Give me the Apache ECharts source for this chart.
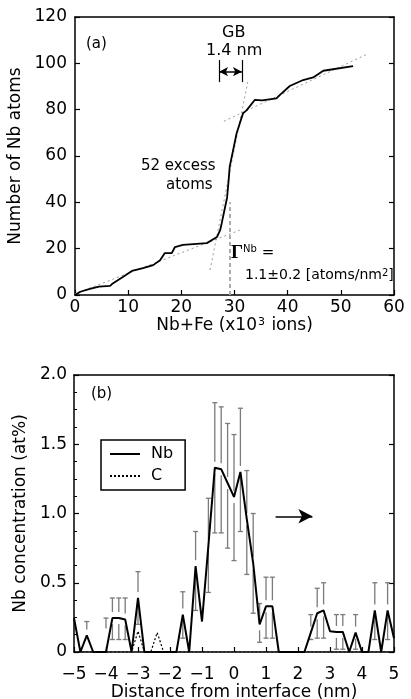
<!DOCTYPE html>
<html>
<head>
<meta charset="utf-8">
<script src="https://cdn.jsdelivr.net/npm/echarts@6/dist/echarts.min.js"></script>
<style>
  html, body { margin: 0; padding: 0; background: #fff; }
  #chart { width: 411px; height: 699px; }
</style>
</head>
<body>
<div id="chart"></div>
<script>
// ---------- (a) cumulative Nb count vs. total Nb+Fe ions ----------
var ionsK   = [0, 1, 2.8, 4.5, 6.6, 7.1, 9, 10.7, 12.8, 14.7, 16, 16.9, 18.2, 18.8, 20.3, 24.8, 26.7, 27.3, 27.6, 28.6, 28.9, 29.1, 30.4, 31.6, 32.3, 33.8, 35.2, 37.9, 38.5, 40.4, 42.9, 44.8, 46.7, 52.3];
var nbCount = [0, 1.4, 2.6, 3.6, 3.9, 5, 7.8, 10.4, 11.6, 12.9, 15, 18.1, 18.1, 20.7, 21.6, 22.4, 25, 28, 31, 42, 49.6, 55.4, 69.8, 78.4, 79.8, 84.2, 84, 84.9, 86.3, 90.2, 92.8, 93.9, 96.8, 98.8];

// straight-line fits (end points) for the matrix / boundary / matrix regimes
var fitBelowX = [0, 31],    fitBelowY = [0.5, 28];
var fitGbX    = [25.4, 32.5], fitGbY  = [10.8, 92];
var fitAboveX = [28, 55],   fitAboveY = [75, 104];
var gbCentreX = 29.2, gbCentreTop = 40;
var gbEdgesX  = [27.1, 31.4], gbMarkerY = [91.9, 101.4], gbArrowY = 96.4;

var aTicksX = [0, 10, 20, 30, 40, 50, 60];
var aTicksY = [0, 20, 40, 60, 80, 100, 120];

// ---------- (b) Nb / C concentration profile across the interface ----------
var distNm = [-5.0, -4.8, -4.6, -4.4, -4.2, -4.0, -3.8, -3.6, -3.4, -3.2, -3.0, -2.8, -2.6, -2.4, -2.2, -2.0, -1.8, -1.6, -1.4, -1.2, -1.0,
              -0.8, -0.6, -0.4, -0.2, 0.0, 0.2, 0.4, 0.6, 0.8, 1.0, 1.2, 1.4, 1.6, 1.8, 2.0, 2.2, 2.4, 2.6, 2.8, 3.0,
              3.2, 3.4, 3.6, 3.8, 4.0, 4.2, 4.4, 4.6, 4.8, 5.0];
var nbConc = [0.245, 0, 0.12, 0, 0, 0, 0.245, 0.245, 0.235, 0, 0.39, 0, 0, 0, 0, 0, 0, 0.27, 0, 0.62, 0.22,
              0.77, 1.33, 1.32, 1.22, 1.12, 1.30, 0.96, 0.64, 0.20, 0.33, 0.33, 0, 0, 0, 0, 0, 0.14, 0.28, 0.30, 0.15,
              0.145, 0.145, 0, 0.14, 0, 0, 0.30, 0, 0.30, 0.10];
var cConc  = [0, 0, 0, 0, 0, 0, 0, 0, 0, 0, 0.15, 0, 0, 0.14, 0, 0, 0, 0, 0, 0, 0,
              0, 0, 0, 0, 0, 0, 0, 0, 0, 0, 0, 0, 0, 0, 0, 0, 0, 0, 0, 0,
              0, 0, 0, 0, 0, 0, 0, 0, 0, 0];
// error bar limits for Nb (null = no bar drawn)
var nbErrLow  = [null, null, 0.12, null, null, 0.17, 0.09, 0.09, 0.09, null, 0.20, null, null, null, null, null, null, 0.10, null, 0.30, null,
                 0.43, 0.86, 0.86, 0.75, 0.66, 0.87, 0.56, 0.28, 0.07, 0.10, 0.10, null, null, null, null, null, 0.09, 0.10, 0.10, null,
                 0.02, 0.02, null, 0.02, null, null, 0.09, null, 0.09, null];
var nbErrHigh = [null, null, 0.22, null, null, 0.245, 0.39, 0.39, 0.39, null, 0.58, null, null, null, null, null, null, 0.435, null, 0.87, null,
                 1.11, 1.80, 1.77, 1.65, 1.57, 1.76, 1.31, 1.00, 0.35, 0.54, 0.54, null, null, null, null, null, 0.27, 0.46, 0.50, null,
                 0.27, 0.27, null, 0.27, null, null, 0.50, null, 0.50, null];
var arrowFrom = [1.3, 0.98], arrowTo = [2.45, 0.98];

var bTicksX = [-5, -4, -3, -2, -1, 0, 1, 2, 3, 4, 5];
var bTicksY = [0, 0.5, 1.0, 1.5, 2.0];

// ---------- build series data ----------
function pairs(xs, ys) { return xs.map(function (x, i) { return [x, ys[i]]; }); }
var errData = [];
distNm.forEach(function (x, i) {
  if (nbErrLow[i] !== null) errData.push([x, nbConc[i], nbErrLow[i], nbErrHigh[i]]);
});

var FONT = 'DejaVu Sans';
var axisText = { fontFamily: FONT, fontSize: 17, color: '#000' };
var black = '#000';

function frameAxis(base) {
  return Object.assign({
    axisLine: { show: true, onZero: false, lineStyle: { color: black, width: 1.5 } },
    axisTick: { show: true, inside: true, length: 5, lineStyle: { color: black, width: 1.2 } },
    splitLine: { show: false }
  }, base);
}

var chart = echarts.init(document.getElementById('chart'), null, { renderer: 'canvas' });

var option = {
  animation: false,
  backgroundColor: '#fff',
  grid: [
    { left: 75, top: 17, width: 319, height: 278, outerBoundsMode: 'none', containLabel: false },
    { left: 74, top: 375, width: 320, height: 277, outerBoundsMode: 'none', containLabel: false }
  ],
  xAxis: [
    frameAxis({
      gridIndex: 0, type: 'value', min: aTicksX[0], max: aTicksX[aTicksX.length - 1], interval: 10,
      axisLabel: Object.assign({ margin: 4 }, axisText),
      name: '{t|Nb+Fe (x10}{s|3}{t| ions)}', nameLocation: 'middle', nameGap: 11,
      nameTextStyle: { rich: {
        t: { fontFamily: FONT, fontSize: 17, color: black },
        s: { fontFamily: FONT, fontSize: 11, color: black, verticalAlign: 'top', padding: [0, 1, 6, 1] }
      } }
    }),
    frameAxis({ gridIndex: 0, type: 'value', position: 'top', min: 0, max: 60, interval: 10,
      axisTick: { show: false }, axisLabel: { show: false } }),
    frameAxis({
      gridIndex: 1, type: 'value', min: bTicksX[0], max: bTicksX[bTicksX.length - 1], interval: 1,
      axisLabel: Object.assign({ margin: 14, formatter: function (v) { return String(v).replace('-', '\u2212'); } }, axisText),
      name: 'Distance from interface (nm)', nameLocation: 'middle', nameGap: 31,
      nameTextStyle: axisText
    }),
    frameAxis({ gridIndex: 1, type: 'value', position: 'top', min: -5, max: 5, interval: 1,
      axisTick: { show: false }, axisLabel: { show: false } })
  ],
  yAxis: [
    frameAxis({
      gridIndex: 0, type: 'value', min: aTicksY[0], max: aTicksY[aTicksY.length - 1], interval: 20,
      axisLabel: Object.assign({ margin: 8 }, axisText),
      name: 'Number of Nb atoms', nameLocation: 'middle', nameGap: 45, nameTextStyle: axisText
    }),
    frameAxis({ gridIndex: 0, type: 'value', position: 'right', min: 0, max: 120, interval: 20,
      axisLabel: { show: false } }),
    frameAxis({
      gridIndex: 1, type: 'value', min: bTicksY[0], max: bTicksY[bTicksY.length - 1], interval: 0.5,
      axisLabel: Object.assign({ margin: 7, formatter: function (v) { return v === 0 ? '0' : v.toFixed(1); } }, axisText),
      minorTick: { show: true, splitNumber: 4, length: 3, lineStyle: { color: black, width: 1 } },
      name: 'Nb concentration (at%)', nameLocation: 'middle', nameGap: 44, nameTextStyle: axisText
    }),
    frameAxis({ gridIndex: 1, type: 'value', position: 'right', min: 0, max: 2, interval: 0.5,
      axisLabel: { show: false } })
  ],
  legend: {
    data: ['Nb', 'C'],
    orient: 'vertical',
    left: 101, top: 440,
    padding: [6, 12, 6, 8],
    itemWidth: 30, itemHeight: 14, itemGap: 6,
    itemStyle: { opacity: 0 },
    borderColor: black, borderWidth: 1.5,
    backgroundColor: '#fff',
    textStyle: { fontFamily: FONT, fontSize: 16, color: black, padding: [0, 0, 0, 6] }
  },
  series: [
    // (a) measured cumulative curve
    { type: 'line', xAxisIndex: 0, yAxisIndex: 0, data: pairs(ionsK, nbCount), symbol: 'none',
      lineStyle: { color: black, width: 1.8 }, z: 5, silent: true },
    // (a) linear fits
    { type: 'line', xAxisIndex: 0, yAxisIndex: 0, data: pairs(fitBelowX, fitBelowY), symbol: 'none',
      lineStyle: { color: '#999', width: 1, type: [2, 3] }, z: 3, silent: true },
    { type: 'line', xAxisIndex: 0, yAxisIndex: 0, data: pairs(fitGbX, fitGbY), symbol: 'none',
      lineStyle: { color: '#999', width: 1, type: [2, 3] }, z: 3, silent: true },
    { type: 'line', xAxisIndex: 0, yAxisIndex: 0, data: pairs(fitAboveX, fitAboveY), symbol: 'none',
      lineStyle: { color: '#999', width: 1, type: [2, 3] }, z: 3, silent: true },
    // (a) boundary markers
    { type: 'line', xAxisIndex: 0, yAxisIndex: 0, data: [], silent: true,
      markLine: {
        silent: true, animation: false, label: { show: false },
        data: [
          [{ coord: [gbCentreX, 0], symbol: 'none', lineStyle: { color: '#aaa', width: 2, type: [4, 3] } },
           { coord: [gbCentreX, gbCentreTop], symbol: 'none' }],
          [{ coord: [gbEdgesX[0], gbMarkerY[0]], symbol: 'none', lineStyle: { color: black, width: 1.2, type: 'solid' } },
           { coord: [gbEdgesX[0], gbMarkerY[1]], symbol: 'none' }],
          [{ coord: [gbEdgesX[1], gbMarkerY[0]], symbol: 'none', lineStyle: { color: black, width: 1.2, type: 'solid' } },
           { coord: [gbEdgesX[1], gbMarkerY[1]], symbol: 'none' }],
          [{ coord: [gbEdgesX[0], gbArrowY], symbol: 'arrow', symbolSize: [7, 9], lineStyle: { color: black, width: 1.5, type: 'solid' } },
           { coord: [gbEdgesX[1], gbArrowY], symbol: 'arrow', symbolSize: [7, 9] }]
        ]
      } },

    // (b) error bars
    { type: 'custom', xAxisIndex: 2, yAxisIndex: 2, data: errData, z: 2, silent: true,
      renderItem: function (params, api) {
        var x = api.value(0), v = api.value(1), lo = api.value(2), hi = api.value(3);
        var pHi = api.coord([x, hi]), pLo = api.coord([x, lo]), pV = api.coord([x, v]);
        var gap = 6, cap = 2.5;
        var st = { stroke: '#7a7a7a', lineWidth: 1.3 };
        var kids = [];
        var upEnd = Math.min(pV[1] - gap, pLo[1]);
        if (upEnd > pHi[1]) kids.push({ type: 'line', shape: { x1: pHi[0], y1: pHi[1], x2: pHi[0], y2: upEnd }, style: st });
        var dnStart = Math.max(pV[1] + gap, pHi[1]);
        if (pLo[1] > dnStart) kids.push({ type: 'line', shape: { x1: pLo[0], y1: dnStart, x2: pLo[0], y2: pLo[1] }, style: st });
        kids.push({ type: 'line', shape: { x1: pHi[0] - cap, y1: pHi[1], x2: pHi[0] + cap, y2: pHi[1] }, style: st });
        if (pLo[1] > pV[1] + gap) kids.push({ type: 'line', shape: { x1: pLo[0] - cap, y1: pLo[1], x2: pLo[0] + cap, y2: pLo[1] }, style: st });
        return { type: 'group', children: kids };
      } },
    { name: 'C', type: 'line', xAxisIndex: 2, yAxisIndex: 2, data: pairs(distNm, cConc), symbol: 'none',
      lineStyle: { color: black, width: 1.2, type: [2, 2] }, itemStyle: { color: black }, z: 4, silent: true },
    { name: 'Nb', type: 'line', xAxisIndex: 2, yAxisIndex: 2, data: pairs(distNm, nbConc), symbol: 'none',
      lineStyle: { color: black, width: 2 }, itemStyle: { color: black }, z: 5, silent: true,
      markLine: {
        silent: true, animation: false, label: { show: false },
        data: [[{ coord: arrowFrom, symbol: 'none', lineStyle: { color: black, width: 1.6, type: 'solid' } },
                { coord: arrowTo, symbol: 'arrow', symbolSize: [11, 14] }]]
      } }
  ],
  graphic: [
    { type: 'text', left: 86, top: 37, style: { text: '(a)', font: '15px "DejaVu Sans"', fill: black } },
    { type: 'text', left: 222, top: 25, style: { text: 'GB', font: '16px "DejaVu Sans"', fill: black } },
    { type: 'text', left: 206, top: 43, style: { text: '1.4 nm', font: '16px "DejaVu Sans"', fill: black } },
    { type: 'text', left: 141, top: 159, style: { text: '52 excess', font: '15px "DejaVu Sans"', fill: black } },
    { type: 'text', left: 166, top: 178, style: { text: 'atoms', font: '15px "DejaVu Sans"', fill: black } },
    { type: 'text', left: 231, top: 244, style: {
        text: '{g|\u0393}{n|Nb}{e| =}',
        rich: {
          g: { fontFamily: 'Liberation Serif', fontWeight: 'bold', fontSize: 19, fill: black },
          n: { fontFamily: FONT, fontSize: 10, fill: black, verticalAlign: 'top' },
          e: { fontFamily: FONT, fontSize: 15, fill: black }
        } } },
    { type: 'text', left: 245, top: 268, style: {
        text: '{t|1.1\u00b10.2 [atoms/nm}{s|2}{t|]}',
        rich: {
          t: { fontFamily: FONT, fontSize: 14, fill: black },
          s: { fontFamily: FONT, fontSize: 10, fill: black, verticalAlign: 'top' }
        } } },
    { type: 'text', left: 91, top: 387, style: { text: '(b)', font: '15px "DejaVu Sans"', fill: black } }
  ]
};

chart.setOption(option);
</script>
</body>
</html>
